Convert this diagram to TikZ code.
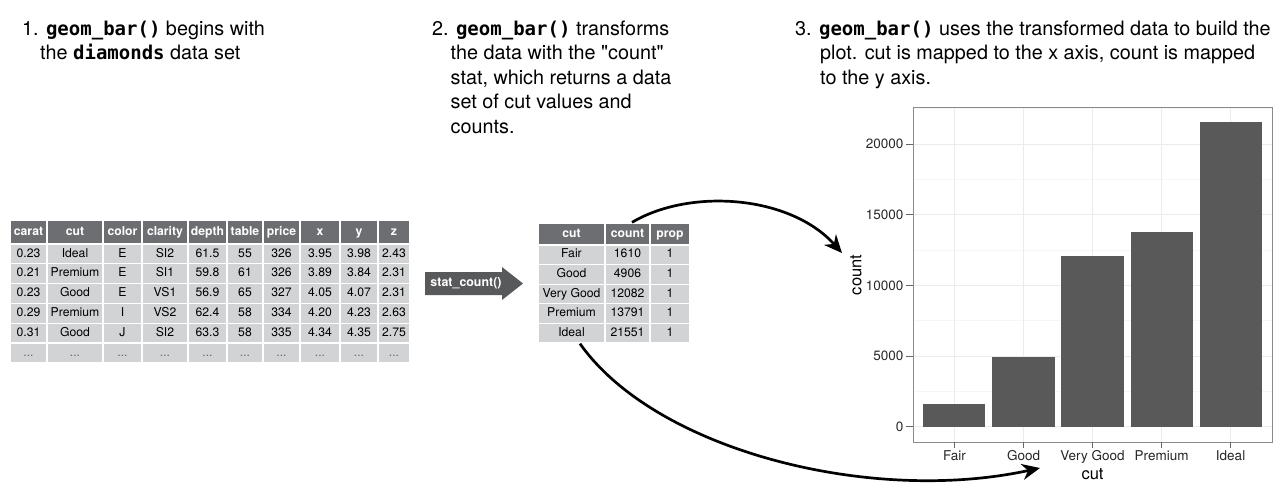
\documentclass[tikz,border=0pt]{standalone}
\usepackage{fontspec}
\setmainfont{TeX Gyre Heros}
\newfontfamily\rawfont{TeX Gyre Heros}[Ligatures=TeXOff]
\newfontfamily\codefont{DejaVu Sans Mono}[Scale=0.96]
\usetikzlibrary{arrows.meta}
\definecolor{hdr}{HTML}{6D6E72}
\definecolor{cellbg}{HTML}{D2D3D5}
\definecolor{barc}{HTML}{595959}
\definecolor{gridmaj}{HTML}{EBEBEB}
\definecolor{gridmin}{HTML}{F6F6F6}
\definecolor{panelc}{HTML}{8A8A8A}
\definecolor{statc}{HTML}{58595B}
\newcommand\code[1]{{\codefont\bfseries #1}}
\newcommand\dq{{\rawfont\symbol{34}}}
\begin{document}
\begin{tikzpicture}[x=1pt,y=-1pt,
  caption/.style={anchor=base west, inner sep=0, align=left, font=\fontsize{19.8}{24.5}\selectfont},
  hcell/.style={fill=hdr, draw=white, line width=1.3pt, inner sep=0, text=white,
    text height=8.6pt, text depth=2.4pt, font=\fontsize{12.2}{14}\selectfont\bfseries},
  dcell/.style={fill=cellbg, draw=white, line width=1.3pt, inner sep=0, text=black,
    text height=8.6pt, text depth=2.4pt, font=\fontsize{12.2}{14}\selectfont},
  flow/.style={line width=2.7pt, -{Stealth[length=18pt,width=16pt]}},
  ticklab/.style={inner sep=0, font=\fontsize{13.5}{16}\selectfont, text=black!85},
  axtitle/.style={inner sep=0, font=\fontsize{16.5}{18}\selectfont},
  tickmark/.style={draw=black!60, line width=0.9pt},
]
\useasboundingbox (0,0) rectangle (1288,498);

% ---------- captions (anchor = baseline of last line) ----------
\node[caption] (s1) at (22,59.5) {1. \code{geom\_bar()} begins with\\\hspace*{18pt}the \code{diamonds} data set};
\node[caption] (s2) at (432,133) {2. \code{geom\_bar()} transforms\\\hspace*{18.5pt}the data with the \dq count\dq\\\hspace*{18.5pt}stat, which returns a data\\\hspace*{18.5pt}set of cut values and\\\hspace*{18.5pt}counts.};
\node[caption] (s3) at (795,84) {3. \code{geom\_bar()} uses the transformed data to build the\\\hspace*{25pt}plot. cut is mapped to the x axis, count is mapped\\\hspace*{25pt}to the y axis.};

% ---------- table 1 (diamonds) ----------
\foreach \v [count=\c] in {carat,cut,color,clarity,depth,table,price,x,y,z} {
  \pgfmathsetmacro\xl{{10,47,103,142,188,227,263,300,340,378,410}[\c-1]}
  \pgfmathsetmacro\xr{{10,47,103,142,188,227,263,300,340,378,410}[\c]}
  \pgfmathsetmacro\w{\xr-\xl}
  \node[hcell, minimum width=\w pt, minimum height=24pt] (ta-0-\c) at ({(\xl+\xr)/2},232) {\v};
}
\foreach \r/\row in {
  1/{0.23,Ideal,E,SI2,61.5,55,326,3.95,3.98,2.43},
  2/{0.21,Premium,E,SI1,59.8,61,326,3.89,3.84,2.31},
  3/{0.23,Good,E,VS1,56.9,65,327,4.05,4.07,2.31},
  4/{0.29,Premium,I,VS2,62.4,58,334,4.20,4.23,2.63},
  5/{0.31,Good,J,SI2,63.3,58,335,4.34,4.35,2.75}} {
  \foreach \v [count=\c] in \row {
    \pgfmathsetmacro\xl{{10,47,103,142,188,227,263,300,340,378,410}[\c-1]}
    \pgfmathsetmacro\xr{{10,47,103,142,188,227,263,300,340,378,410}[\c]}
    \pgfmathsetmacro\w{\xr-\xl}
    \pgfmathsetmacro\yc{244+19.8*(\r-0.5)}
    \node[dcell, minimum width=\w pt, minimum height=19.8pt] (ta-\r-\c) at ({(\xl+\xr)/2},\yc) {\v};
  }
}
\foreach \c in {1,2,3,4,5,6,7,8,9,10} {
  \pgfmathsetmacro\xl{{10,47,103,142,188,227,263,300,340,378,410}[\c-1]}
  \pgfmathsetmacro\xr{{10,47,103,142,188,227,263,300,340,378,410}[\c]}
  \pgfmathsetmacro\w{\xr-\xl}
  \pgfmathsetmacro\yc{244+19.8*5.5}
  \node[dcell, text=black!60, minimum width=\w pt, minimum height=19.8pt] (ta-6-\c) at ({(\xl+\xr)/2},\yc) {...};
}

% ---------- stat_count arrow ----------
\fill[statc] (425,272) -- (502,272) -- (502,267) -- (523,283.5) -- (502,300) -- (502,295) -- (425,295) -- cycle;
\node[inner sep=0, text=white, font=\fontsize{12.4}{14}\selectfont\bfseries] (stat) at (466,283.5) {stat\_count()};

% ---------- table 2 (counts) ----------
\foreach \v [count=\c] in {cut,count,prop} {
  \pgfmathsetmacro\xl{{538,605,650,690}[\c-1]}
  \pgfmathsetmacro\xr{{538,605,650,690}[\c]}
  \pgfmathsetmacro\w{\xr-\xl}
  \node[hcell, minimum width=\w pt, minimum height=22pt] (tb-0-\c) at ({(\xl+\xr)/2},234) {\v};
}
\foreach \r/\row in {
  1/{Fair,1610,1},
  2/{Good,4906,1},
  3/{Very Good,12082,1},
  4/{Premium,13791,1},
  5/{Ideal,21551,1}} {
  \foreach \v [count=\c] in \row {
    \pgfmathsetmacro\xl{{538,605,650,690}[\c-1]}
    \pgfmathsetmacro\xr{{538,605,650,690}[\c]}
    \pgfmathsetmacro\w{\xr-\xl}
    \pgfmathsetmacro\yc{245+19.6*(\r-0.5)}
    \node[dcell, minimum width=\w pt, minimum height=19.6pt] (tb-\r-\c) at ({(\xl+\xr)/2},\yc) {\v};
  }
}

% ---------- bar chart (values in thousands) ----------
\foreach \k in {2.5,7.5,12.5,17.5,22.5} {
  \pgfmathsetmacro\yy{426.77-\k*14.131}
  \draw[gridmin, line width=0.8pt] (913,\yy) -- (1272,\yy);
}
\foreach \k in {0,5,10,15,20} {
  \pgfmathsetmacro\yy{426.77-\k*14.131}
  \draw[gridmaj, line width=0.9pt] (913,\yy) -- (1272,\yy);
}
\foreach \cx in {954.4,1023.5,1092.5,1161.6,1230.6} {
  \draw[gridmaj, line width=0.9pt] (\cx,107) -- (\cx,442);
}
\foreach \cx/\k in {954.4/1.610,1023.5/4.906,1092.5/12.082,1161.6/13.791,1230.6/21.551} {
  \pgfmathsetmacro\yy{426.77-\k*14.131}
  \fill[barc] (\cx-31.05,426.77) rectangle (\cx+31.05,\yy);
}
\draw[panelc, line width=1pt] (913,107) rectangle (1272,442);
\foreach \k/\lab in {0/0,5/5000,10/10000,15/15000,20/20000} {
  \pgfmathsetmacro\yy{426.77-\k*14.131}
  \draw[tickmark] (906,\yy) -- (913,\yy);
  \node[ticklab, anchor=east] (yl\k) at (903.5,\yy) {\lab};
}
\foreach \cx/\lab [count=\i] in {954.4/Fair,1023.5/Good,1092.5/Very Good,1161.6/Premium,1230.6/Ideal} {
  \draw[tickmark] (\cx,442) -- (\cx,447.5);
  \node[ticklab, anchor=base] (xl\i) at (\cx,460) {\lab};
}
\node[axtitle, anchor=base] (cutlab) at (1092.5,479) {cut};
\node[axtitle, rotate=90, anchor=center] (countlab) at (856,275) {count};

% ---------- flow arrows ----------
\coordinate (countin) at (842,253);
\coordinate (cutin) at (1040,468);
\draw[flow] ([xshift=4.5pt]tb-0-2.north) .. controls (690,188) and (790,195) .. (countin);
\draw[flow] ([xshift=8.5pt]tb-5-1.south) .. controls (655,450) and (870,505) .. (cutin);
\end{tikzpicture}
\end{document}
